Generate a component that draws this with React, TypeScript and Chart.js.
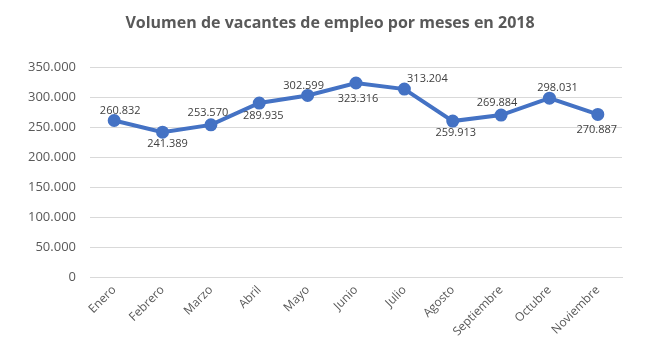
import React, { useEffect, useRef } from "react";
import { Chart, registerables } from "chart.js";

Chart.register(...registerables);

const TITLE = "Volumen de vacantes de empleo por meses en 2018";
const MONTHS = ["Enero", "Febrero", "Marzo", "Abril", "Mayo", "Junio", "Julio", "Agosto", "Septiembre", "Octubre", "Noviembre"];
const VACANTES = [260832, 241389, 253570, 289935, 302599, 323316, 313204, 259913, 269884, 298031, 270887];
const Y_MIN = 0;
const Y_MAX = 350000;
const Y_STEP = 50000;

const fmt = (v: number) => String(Math.round(v)).replace(/\B(?=(\d{3})+(?!\d))/g, ".");

// label offsets (dx, dy) relative to each point, as placed in the reference
const LABEL_OFFSETS: [number, number][] = [
  [6, -10], [5, 12], [-3, -12], [4, 13], [-4, -10], [2, 16], [23, -10], [3, 12], [-4, -12], [8, -10], [-1, 15],
];

const FONT = "'Open Sans', 'Liberation Sans', sans-serif";

const titlePlugin = {
  id: "centeredTitle",
  afterDraw(chart: any) {
    const ctx = chart.ctx;
    ctx.save();
    ctx.font = `bold 16px ${FONT}`;
    ctx.fillStyle = "#595959";
    ctx.textAlign = "center";
    ctx.textBaseline = "middle";
    ctx.fillText(TITLE, chart.width / 2 + 1, 23);
    ctx.restore();
  },
};

const dataLabelPlugin = {
  id: "dataLabels",
  afterDatasetsDraw(chart: any) {
    const ctx = chart.ctx;
    const meta = chart.getDatasetMeta(0);
    ctx.save();
    ctx.font = `11px ${FONT}`;
    ctx.fillStyle = "#404040";
    ctx.textAlign = "center";
    ctx.textBaseline = "middle";
    meta.data.forEach((pt: any, i: number) => {
      const [dx, dy] = LABEL_OFFSETS[i] || [0, -12];
      ctx.fillText(fmt(chart.data.datasets[0].data[i]), pt.x + dx, pt.y + dy);
    });
    ctx.restore();
  },
};

export default function App() {
  const ref = useRef<HTMLCanvasElement | null>(null);
  useEffect(() => {
    if (!ref.current) return;
    const chart = new Chart(ref.current, {
      type: "line",
      data: {
        labels: MONTHS,
        datasets: [
          {
            data: VACANTES,
            borderColor: "#4472C4",
            backgroundColor: "#4472C4",
            borderWidth: 4,
            pointRadius: 4.5,
            pointHoverRadius: 4.5,
            pointBackgroundColor: "#4472C4",
            pointBorderColor: "#4472C4",
            tension: 0,
          },
        ],
      },
      options: {
        responsive: false,
        animation: false,
        layout: { padding: { left: 0, right: 36, top: 67, bottom: 0 } },
        plugins: {
          legend: { display: false },
          tooltip: { enabled: false },
          title: { display: false },
        },
        scales: {
          x: {
            offset: true,
            grid: { display: false, drawTicks: false },
            border: { display: true, color: "#D9D9D9" },
            ticks: {
              color: "#595959",
              font: { family: FONT, size: 12 },
              minRotation: 45,
              maxRotation: 45,
              padding: 6,
              autoSkip: false,
            },
            afterFit(scale: any) {
              scale.height = 87;
            },
          },
          y: {
            min: Y_MIN,
            max: Y_MAX,
            grid: { color: "#D9D9D9", drawTicks: false },
            border: { display: false },
            ticks: {
              stepSize: Y_STEP,
              color: "#595959",
              font: { family: FONT, size: 13 },
              padding: 14,
              callback: (v: any) => fmt(Number(v)),
            },
            afterFit(scale: any) {
              scale.width = 90;
            },
          },
        },
      },
      plugins: [dataLabelPlugin, titlePlugin],
    });
    return () => chart.destroy();
  }, []);
  return (
    <div style={{ position: "fixed", left: 0, top: 0, width: 658, height: 364, background: "#fff" }}>
      <canvas ref={ref} width={658} height={364} />
    </div>
  );
}
